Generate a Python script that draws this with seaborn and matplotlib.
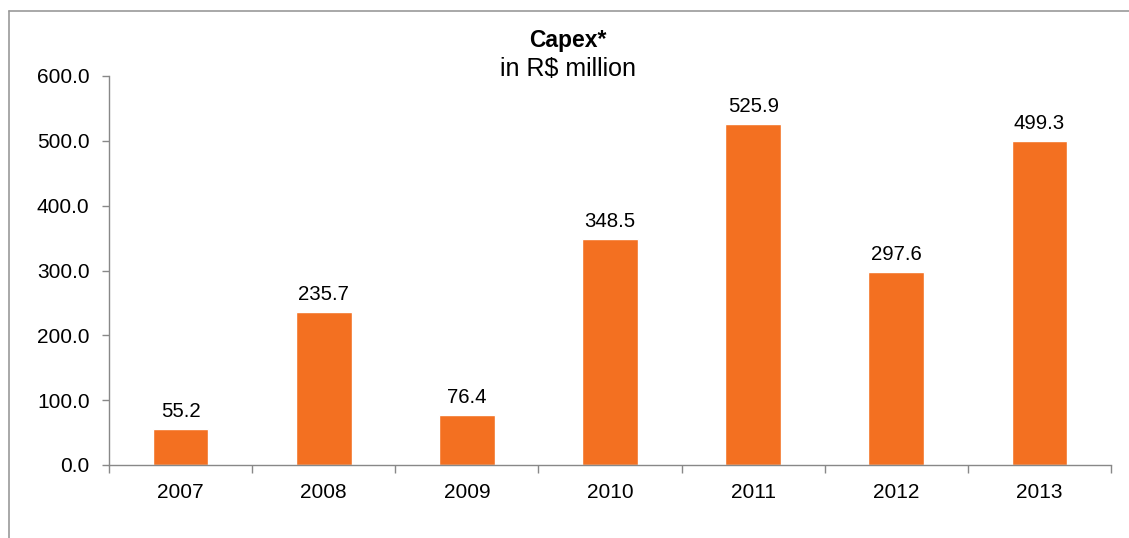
import matplotlib
matplotlib.use("Agg")
import matplotlib.pyplot as plt
import seaborn as sns
import pandas as pd
from matplotlib.lines import Line2D
from matplotlib.ticker import FixedLocator

years = ["2007", "2008", "2009", "2010", "2011", "2012", "2013"]
capex = [55.2, 235.7, 76.4, 348.5, 525.9, 297.6, 499.3]
y_ticks = [0, 100, 200, 300, 400, 500, 600]

sns.set_theme(style="white")
plt.rcParams['font.family'] = ['Liberation Sans', 'DejaVu Sans']

df = pd.DataFrame({"year": years, "capex": capex})

fig = plt.figure(figsize=(11.29, 5.38), dpi=100)
ax = fig.add_axes([109/1129, 1-465/538, (1111-109)/1129, (465-76)/538])

sns.barplot(data=df, x="year", y="capex", color="#F37021", saturation=1,
            width=0.39, ax=ax)

ax.set_ylim(0, 600)
ax.set_xlim(-0.5, len(years) - 0.5)
ax.yaxis.set_major_locator(FixedLocator(y_ticks))
ax.set_yticklabels([f"{v:.1f}" for v in y_ticks])
ax.xaxis.set_minor_locator(FixedLocator([i - 0.5 for i in range(len(years) + 1)]))
ax.tick_params(axis="both", which="both", bottom=True, left=True)
ax.tick_params(axis="x", which="major", length=0, pad=13, labelsize=15, labelcolor="#000000")
ax.tick_params(axis="x", which="minor", length=6, width=1, color="#888888", direction="out")
ax.tick_params(axis="y", which="major", length=5, width=1, color="#888888", direction="out",
               labelsize=15, pad=9, labelcolor="#000000")
ax.set_xlabel("")
ax.set_ylabel("")

for side in ["top", "right"]:
    ax.spines[side].set_visible(False)
for side in ["left", "bottom"]:
    ax.spines[side].set_visible(True)
    ax.spines[side].set_color("#888888")
    ax.spines[side].set_linewidth(1)

for c in ax.containers:
    ax.bar_label(c, labels=[f"{v:.1f}" for v in capex], padding=6, fontsize=14.7, color="#000000")

cx = 0.5 + 3/1129
fig.text(cx, 1-40/538, "Capex*", ha="center", va="center", fontsize=16.5, fontweight="bold", color="#000000")
fig.text(cx, 1-69/538, "in R$ million", ha="center", va="center", fontsize=18, color="#000000")

bx, by = 9/1129, 1 - 11/538
fig.add_artist(Line2D([bx, 1.05], [by, by], transform=fig.transFigure, color="#999999", linewidth=1.2))
fig.add_artist(Line2D([bx, bx], [by, -0.05], transform=fig.transFigure, color="#999999", linewidth=1.2))

fig.savefig("out.png", dpi=100)
